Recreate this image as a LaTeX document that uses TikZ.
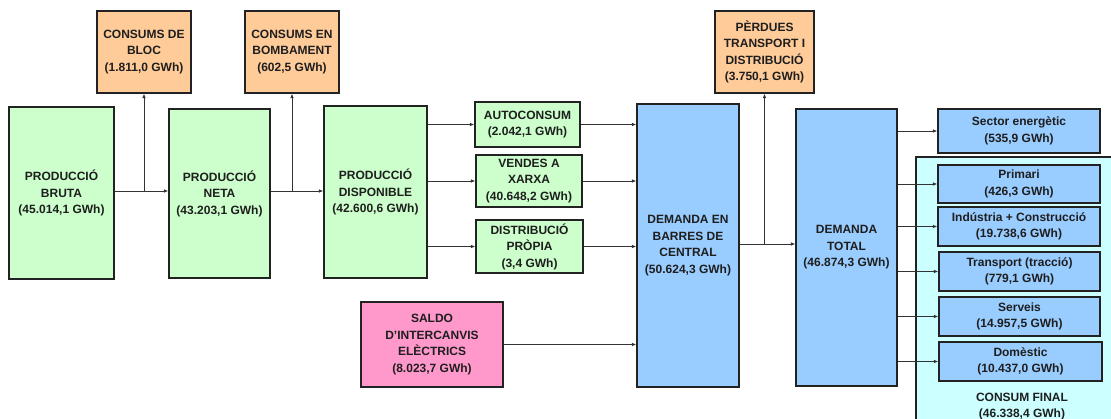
\documentclass[tikz,border=0pt]{standalone}
\usepackage{fontspec}
\setmainfont{Liberation Sans}
\usetikzlibrary{arrows.meta}
\definecolor{boxgreen}{HTML}{CCFFCC}
\definecolor{boxorange}{HTML}{FFCC99}
\definecolor{boxblue}{HTML}{99CCFF}
\definecolor{boxpink}{HTML}{FF99CC}
\definecolor{boxcyan}{HTML}{CCFFFF}
\definecolor{edgecol}{HTML}{222222}
\definecolor{conncol}{HTML}{333333}
\definecolor{txtcol}{HTML}{1E1E1E}
\tikzset{
  box/.style={draw=edgecol, line width=1.2pt, align=center, inner sep=0pt,
    font=\bfseries\fontsize{12}{16.5}\selectfont, text=txtcol},
  gbox/.style={box, fill=boxgreen},
  obox/.style={box, fill=boxorange},
  bbox/.style={box, fill=boxblue},
  pbox/.style={box, fill=boxpink},
  cbox/.style={draw=edgecol, line width=1.2pt, fill=boxcyan, inner sep=0pt},
  lbl/.style={align=center, inner sep=0pt, font=\bfseries\fontsize{12}{16.5}\selectfont, text=txtcol},
  arr/.style={draw=conncol, line width=0.9pt, -{Latex[length=4.5pt,width=3.6pt]}},
  ln/.style={draw=conncol, line width=0.9pt},
}
\begin{document}
\begin{tikzpicture}[x=1pt,y=-1pt]
\useasboundingbox[fill=white] (0,0) rectangle (1111,419);

% consum final container
\node[cbox, minimum width=199pt, minimum height=270pt] (final) at (1015.5,292) {};

% top orange boxes
\node[obox, minimum width=94pt, minimum height=82pt] (bloc) at (144,52) {CONSUMS DE\\BLOC\\(1.811,0 GWh)};
\node[obox, minimum width=94pt, minimum height=82pt] (bomb) at (292,52) {CONSUMS EN\\BOMBAMENT\\(602,5 GWh)};
\node[obox, minimum width=99pt, minimum height=82pt] (perd) at (764.5,52) {PÈRDUES\\TRANSPORT I\\DISTRIBUCIÓ\\(3.750,1 GWh)};

% production chain
\node[gbox, minimum width=105pt, minimum height=172pt] (bruta) at (61.5,193) {PRODUCCIÓ\\BRUTA\\(45.014,1 GWh)};
\node[gbox, minimum width=101pt, minimum height=169pt] (neta) at (219.5,193.5) {PRODUCCIÓ\\NETA\\(43.203,1 GWh)};
\node[gbox, minimum width=103pt, minimum height=172pt] (disp) at (375.5,192) {PRODUCCIÓ\\DISPONIBLE\\(42.600,6 GWh)};

\node[gbox, minimum width=105pt, minimum height=45pt] (auto) at (527.5,124.5) {AUTOCONSUM\\(2.042,1 GWh)};
\node[gbox, minimum width=106pt, minimum height=52pt] (vend) at (529,181) {VENDES A\\XARXA\\(40.648,2 GWh)};
\node[gbox, minimum width=107pt, minimum height=53pt] (dist) at (529.5,246.5) {DISTRIBUCIÓ\\PRÒPIA\\(3,4 GWh)};

\node[pbox, minimum width=142pt, minimum height=85pt] (saldo) at (432,344.5) {SALDO\\D'INTERCANVIS\\ELÈCTRICS\\(8.023,7 GWh)};

\node[bbox, minimum width=102pt, minimum height=283pt] (barres) at (688,245.5) {DEMANDA EN\\BARRES DE\\CENTRAL\\(50.624,3 GWh)};
\node[bbox, minimum width=101pt, minimum height=277pt] (total) at (846.5,247.5) {DEMANDA\\TOTAL\\(46.874,3 GWh)};

% final sectors
\node[bbox, minimum width=162pt, minimum height=44pt] (sector) at (1019,131) {Sector energètic\\(535,9 GWh)};
\node[bbox, minimum width=162pt, minimum height=38pt] (prim) at (1019,184) {Primari\\(426,3 GWh)};
\node[bbox, minimum width=162pt, minimum height=39pt] (indus) at (1019,226.5) {Indústria + Construcció\\(19.738,6 GWh)};
\node[bbox, minimum width=161pt, minimum height=39pt] (transp) at (1019.5,271.5) {Transport (tracció)\\(779,1 GWh)};
\node[bbox, minimum width=161pt, minimum height=39pt] (serv) at (1019.5,316.5) {Serveis\\(14.957,5 GWh)};
\node[bbox, minimum width=163pt, minimum height=39pt] (domes) at (1020.5,361.5) {Domèstic\\(10.437,0 GWh)};
\node[lbl] (finallbl) at (1022,406.5) {CONSUM FINAL\\(46.338,4 GWh)};

% junctions
\coordinate (j1) at (144,191);
\coordinate (j2) at (292,191);
\coordinate (j3) at (764.5,244);

% connectors
\draw[arr] (bruta.east |- j1) -- (neta.west |- j1);
\draw[arr] (j1) -- (bloc.south);
\draw[arr] (neta.east |- j2) -- (disp.west |- j2);
\draw[arr] (j2) -- (bomb.south);

\draw[arr] (disp.east |- auto.west) -- (auto.west);
\draw[arr] (disp.east |- vend.west) -- (vend.west);
\draw[arr] (disp.east |- dist.west) -- (dist.west);

\draw[arr] (auto.east) -- (barres.west |- auto.east);
\draw[arr] (vend.east) -- (barres.west |- vend.east);
\draw[arr] (dist.east) -- (barres.west |- dist.east);
\draw[arr] (saldo.east) -- (barres.west |- saldo.east);

\draw[arr] (barres.east |- j3) -- (total.west |- j3);
\draw[arr] (j3) -- (perd.south);

\draw[arr] (total.east |- sector.west) -- (sector.west);
\draw[arr] (total.east |- prim.west) -- (prim.west);
\draw[arr] (total.east |- indus.west) -- (indus.west);
\draw[arr] (total.east |- transp.west) -- (transp.west);
\draw[arr] (total.east |- serv.west) -- (serv.west);
\draw[arr] (total.east |- domes.west) -- (domes.west);
\end{tikzpicture}
\end{document}
